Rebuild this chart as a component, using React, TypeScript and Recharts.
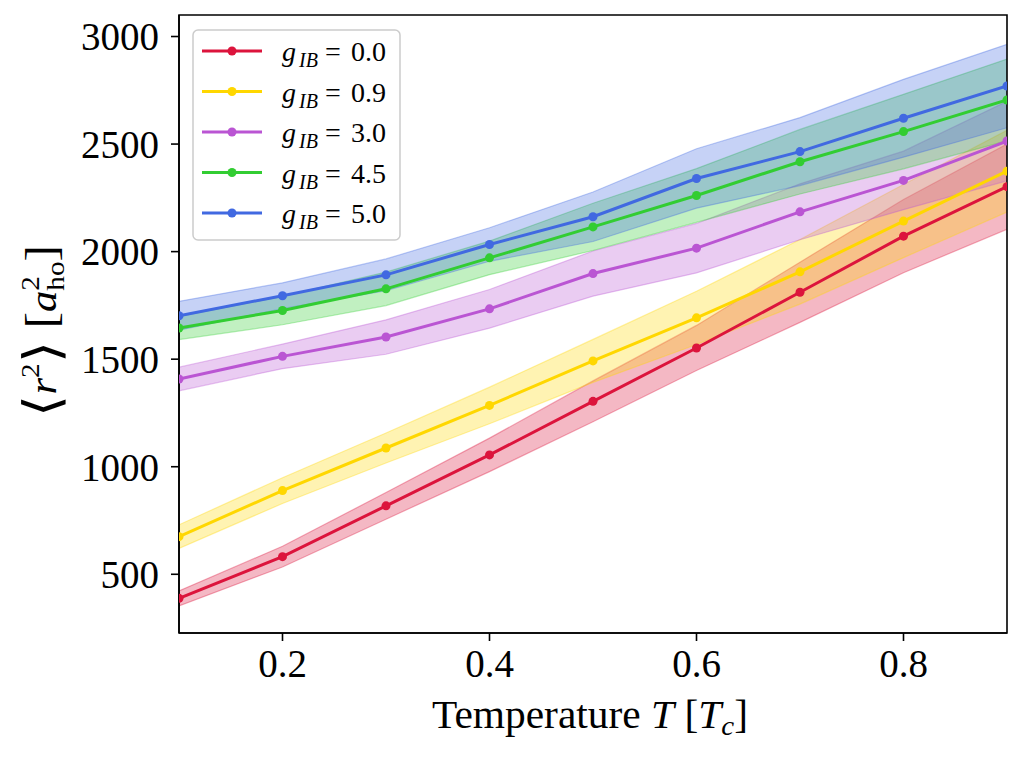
import React from "react";
import { ComposedChart, Area, Line, XAxis, YAxis, ReferenceArea } from "recharts";

// temperatures in units of T_c
const temps = [0.1, 0.2, 0.3, 0.4, 0.5, 0.6, 0.7, 0.8, 0.9];
const couplings = ["0.0", "0.9", "3.0", "4.5", "5.0"];
const colors = ["#DC143C", "#FFD700", "#BA55D3", "#32CD32", "#4169E1"];

// <r^2> means, one list per coupling
const r2g00 = [388, 582, 818, 1055, 1304, 1552, 1811, 2072, 2302];
const r2g09 = [675, 889, 1087, 1285, 1492, 1692, 1906, 2142, 2374];
const r2g30 = [1408, 1513, 1603, 1734, 1898, 2016, 2185, 2331, 2514];
const r2g45 = [1645, 1726, 1827, 1971, 2115, 2261, 2418, 2558, 2705];
const r2g50 = [1702, 1795, 1892, 2033, 2162, 2340, 2465, 2620, 2770];

// half widths of the shaded bands
const errg00 = [35, 48, 62, 78, 95, 105, 140, 170, 198];
const errg09 = [55, 60, 70, 85, 100, 124, 150, 170, 190];
const errg30 = [55, 57, 80, 90, 105, 115, 130, 136, 185];
const errg45 = [54, 66, 78, 78, 110, 125, 150, 173, 190];
const errg50 = [67, 60, 74, 78, 115, 138, 158, 181, 194];

const xTicks = [0.2, 0.4, 0.6, 0.8];
const yTicks = [500, 1000, 1500, 2000, 2500, 3000];

const means = [r2g00, r2g09, r2g30, r2g45, r2g50];
const errs = [errg00, errg09, errg30, errg45, errg50];

const data = temps.map((T, i) => {
  const row: any = { T };
  means.forEach((m, k) => {
    row["m" + k] = m[i];
    row["b" + k] = [m[i] - errs[k][i], m[i] + errs[k][i]];
  });
  return row;
});

const serif = "'Liberation Serif', 'Times New Roman', serif";

const XLabel = () => (
  <text
    x={432}
    y={728}
    fontFamily={serif}
    fontSize={40}
    fill="#000"
    textLength={316}
    lengthAdjust="spacingAndGlyphs"
  >
    Temperature <tspan fontStyle="italic">T</tspan> [<tspan fontStyle="italic">T</tspan>
    <tspan fontStyle="italic" fontSize={28} dy={7}>c</tspan>
    <tspan dy={-7}>]</tspan>
  </text>
);

const YLabel = () => (
  <text
    x={56}
    y={417}
    transform="rotate(-90 56 417)"
    fontFamily={serif}
    fontSize={38}
    fill="#000"
    textLength={172}
    lengthAdjust="spacingAndGlyphs"
  >
    <tspan fontSize={50} dy={3}>⟨</tspan>
    <tspan fontStyle="italic" dy={-3}>r</tspan>
    <tspan fontSize={26} dy={-17}>2</tspan>
    <tspan fontSize={50} dy={20}>⟩</tspan>
    <tspan fontSize={44} dy={-3}> [</tspan>
    <tspan fontStyle="italic">a</tspan>
    <tspan fontSize={26} dy={-17}>2</tspan>
    <tspan fontSize={26} dx={-13} dy={25}>ho</tspan>
    <tspan fontSize={44} dy={-8}>]</tspan>
  </text>
);

const LegendBox = () => (
  <svg
    width={210}
    height={214}
    style={{ position: "absolute", left: 192, top: 29 }}
  >
    <rect x={1} y={1} width={207} height={210} rx={5} fill="#fff" fillOpacity={0.8} stroke="#cccccc" strokeWidth={1.5} />
    {couplings.map((g, k) => {
      const cy = 22 + k * 40.5;
      return (
        <g key={g}>
          <line x1={10} x2={70} y1={cy} y2={cy} stroke={colors[k]} strokeWidth={3} />
          <circle cx={40} cy={cy} r={4.5} fill={colors[k]} />
          <text y={cy + 10} fontFamily={serif} fontSize={28} fill="#000">
            <tspan x={90} fontStyle="italic">g</tspan>
            <tspan x={107} fontStyle="italic" fontSize={20} dy={6}>IB</tspan>
            <tspan x={133} dy={-6}>=</tspan>
            <tspan x={159}>{g}</tspan>
          </text>
        </g>
      );
    })}
  </svg>
);

export default function App() {
  return (
    <div style={{ position: "absolute", left: 0, top: 0, width: 1024, height: 758, background: "#fff" }}>
      <ComposedChart
        width={1024}
        height={758}
        data={data}
        margin={{ top: 15, right: 17, bottom: 0, left: 0 }}
      >
        <XAxis
          dataKey="T"
          type="number"
          domain={[0.1, 0.9]}
          ticks={xTicks}
          tickFormatter={(v: number) => v.toFixed(1)}
          height={125}
          tickSize={8}
          tickMargin={8}
          axisLine={{ stroke: "#000", strokeWidth: 1.6 }}
          tickLine={{ stroke: "#000", strokeWidth: 1.6 }}
          tick={{ fontSize: 39, fill: "#000", fontFamily: serif }}
          allowDataOverflow
        />
        <YAxis
          type="number"
          domain={[227, 3100]}
          ticks={yTicks}
          width={179}
          tickSize={8}
          tickMargin={12}
          axisLine={{ stroke: "#000", strokeWidth: 1.6 }}
          tickLine={{ stroke: "#000", strokeWidth: 1.6 }}
          tick={{ fontSize: 39, fill: "#000", fontFamily: serif }}
          allowDataOverflow
        />
        {couplings.map((g, k) => (
          <Area
            key={"b" + g}
            dataKey={"b" + k}
            type="linear"
            fill={colors[k]}
            fillOpacity={0.3}
            stroke={colors[k]}
            strokeOpacity={0.35}
            strokeWidth={1.2}
            isAnimationActive={false}
            activeDot={false}
          />
        ))}
        {couplings.map((g, k) => (
          <Line
            key={"m" + g}
            dataKey={"m" + k}
            type="linear"
            stroke={colors[k]}
            strokeWidth={3}
            dot={{ r: 4.5, fill: colors[k], stroke: colors[k], strokeWidth: 0 }}
            activeDot={false}
            isAnimationActive={false}
          />
        ))}
        <ReferenceArea
          x1={0.1}
          x2={0.9}
          y1={227}
          y2={3100}
          fill="none"
          stroke="#000"
          strokeWidth={1.6}
          ifOverflow="visible"
        />
        <XLabel />
        <YLabel />
      </ComposedChart>
      <LegendBox />
    </div>
  );
}
